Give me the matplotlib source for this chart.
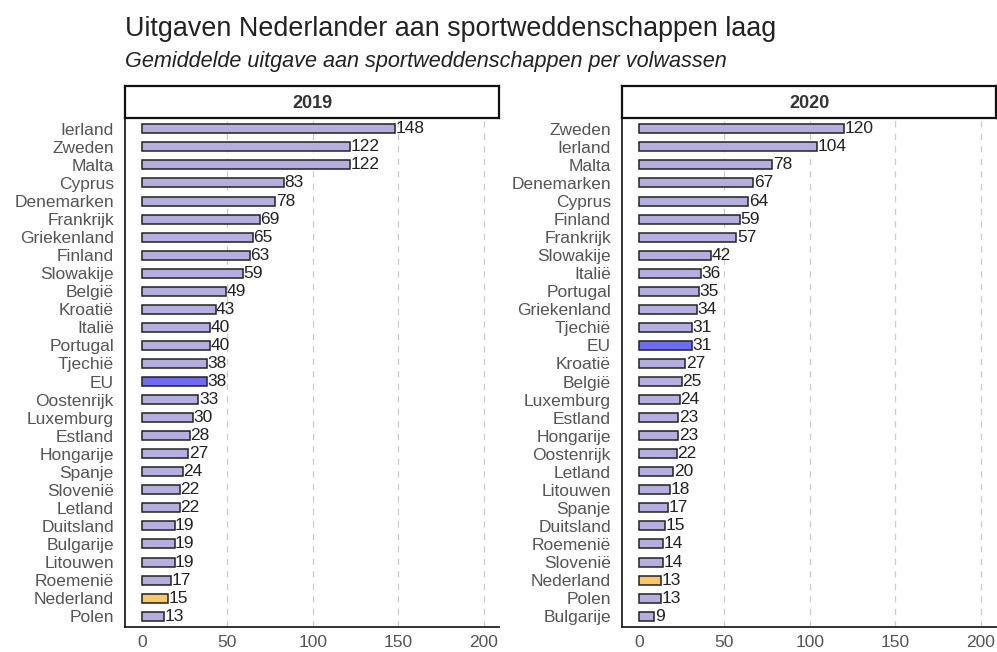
import matplotlib.pyplot as plt

plt.rcParams['font.family'] = ['Liberation Sans', 'DejaVu Sans']

# 2019 data (top to bottom)
countries_2019 = ['Ierland', 'Zweden', 'Malta', 'Cyprus', 'Denemarken', 'Frankrijk',
                  'Griekenland', 'Finland', 'Slowakije', 'België', 'Kroatië', 'Italië',
                  'Portugal', 'Tjechië', 'EU', 'Oostenrijk', 'Luxemburg', 'Estland',
                  'Hongarije', 'Spanje', 'Slovenië', 'Letland', 'Duitsland', 'Bulgarije',
                  'Litouwen', 'Roemenië', 'Nederland', 'Polen']
values_2019 = [148, 122, 122, 83, 78, 69, 65, 63, 59, 49, 43, 40, 40, 38, 38, 33, 30, 28,
               27, 24, 22, 22, 19, 19, 19, 17, 15, 13]

# 2020 data (top to bottom)
countries_2020 = ['Zweden', 'Ierland', 'Malta', 'Denemarken', 'Cyprus', 'Finland',
                  'Frankrijk', 'Slowakije', 'Italië', 'Portugal', 'Griekenland', 'Tjechië',
                  'EU', 'Kroatië', 'België', 'Luxemburg', 'Estland', 'Hongarije',
                  'Oostenrijk', 'Letland', 'Litouwen', 'Spanje', 'Duitsland', 'Roemenië',
                  'Slovenië', 'Nederland', 'Polen', 'Bulgarije']
values_2020 = [120, 104, 78, 67, 64, 59, 57, 42, 36, 35, 34, 31, 31, 27, 25, 24, 23, 23,
               22, 20, 18, 17, 15, 14, 14, 13, 13, 9]

years = ['2019', '2020']

COL_DEFAULT = '#b4afdf'
COL_EU = '#6e6cf4'
COL_NL = '#f8c86c'
TEXT_GREY = '#555555'


def bar_color(name):
    if name == 'EU':
        return COL_EU
    if name == 'Nederland':
        return COL_NL
    return COL_DEFAULT


fig = plt.figure(figsize=(9.97, 6.52), dpi=100)
W, H = 997, 652

# panel edges in pixels
panels = [(125, 499), (622, 996)]
top, bottom = 118, 627
strip_top = 86

fig.text(125 / W, 1 - 29 / H, 'Uitgaven Nederlander aan sportweddenschappen laag',
         fontsize=19.4, color='#222222', va='center', ha='left')
fig.text(125 / W, 1 - 62 / H, 'Gemiddelde uitgave aan sportweddenschappen per volwassen',
         fontsize=15.6, style='italic', color='#222222', va='center', ha='left')

for (left, right), year, names, vals in zip(panels, years,
                                           [countries_2019, countries_2020],
                                           [values_2019, values_2020]):
    ax = fig.add_axes([left / W, 1 - bottom / H, (right - left) / W, (bottom - top) / H])
    ypos = list(range(len(names)))[::-1]
    colors = [bar_color(n) for n in names]
    ax.barh(ypos, vals, height=0.5, color=colors, edgecolor='#222222', linewidth=1.1, zorder=3)
    for y, v in zip(ypos, vals):
        ax.text(v + 0.3, y, str(v), va='center', ha='left', fontsize=12.5,
                color='#222222', zorder=4)
    ax.set_xlim(-10, 209)
    ax.set_ylim(-0.6, len(names) - 0.4)
    ax.set_yticks(ypos)
    ax.set_yticklabels(names, fontsize=12.5, color=TEXT_GREY)
    ax.set_xticks([0, 50, 100, 150, 200])
    ax.tick_params(axis='x', labelsize=12.5, labelcolor=TEXT_GREY, length=0, pad=6)
    ax.tick_params(axis='y', length=0, pad=8)
    for xv in [50, 100, 150, 200]:
        ax.axvline(xv, color='#cccccc', linestyle=(0, (5, 5)), linewidth=0.9, zorder=1)
    for s in ['top', 'right']:
        ax.spines[s].set_visible(False)
    for s in ['left', 'bottom']:
        ax.spines[s].set_color('#222222')
        ax.spines[s].set_linewidth(1.3)

    # facet strip
    sax = fig.add_axes([left / W, 1 - top / H, (right - left) / W, (top - strip_top) / H])
    sax.set_xticks([])
    sax.set_yticks([])
    for s in sax.spines.values():
        s.set_color('#111111')
        s.set_linewidth(1.6)
    sax.text(0.5, 0.45, year, ha='center', va='center', fontsize=13,
             fontweight='bold', color='#333333', transform=sax.transAxes)

fig.savefig('out.png', dpi=100)
